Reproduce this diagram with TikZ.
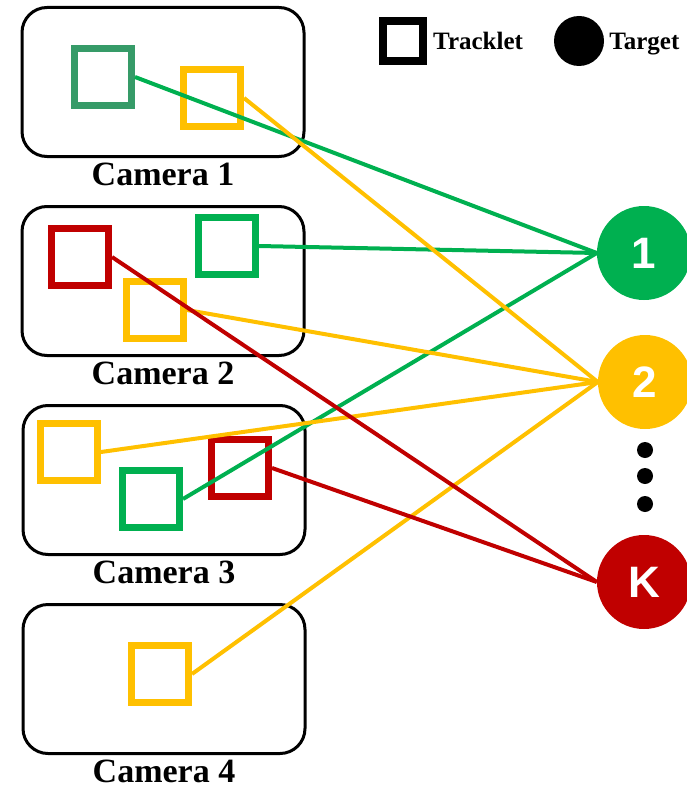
\documentclass[tikz,border=0pt]{standalone}
\usepackage{fontspec}
\setmainfont{Liberation Serif}
\newfontfamily\numfont{Liberation Sans}
\usetikzlibrary{positioning}
\definecolor{tgreen}{RGB}{0,176,80}
\definecolor{tgreenB}{RGB}{54,155,104}
\definecolor{tyellow}{RGB}{255,192,0}
\definecolor{tred}{RGB}{192,0,0}

\begin{document}
\begin{tikzpicture}[x=1pt,y=-1pt,
  camera/.style={draw,line width=3pt,rounded corners=25pt,minimum width=282pt,minimum height=149pt},
  camlabel/.style={font=\fontsize{34}{38}\selectfont\bfseries,inner sep=0pt},
  tracklet/.style={draw,line width=7pt,minimum size=57pt,inner sep=0pt},
  target/.style={circle,minimum size=94pt,inner sep=0pt,text=white,font=\numfont\fontsize{44}{48}\selectfont\bfseries},
  dot/.style={circle,fill=black,minimum size=16pt,inner sep=0pt},
  legtext/.style={font=\fontsize{25}{28}\selectfont\bfseries,inner sep=0pt,text height=16.5pt,text depth=0pt},
  link/.style={line width=4pt}]
\useasboundingbox (0,0) rectangle (687,789);

% cameras
\node[camera] (cam1) at (163,82) {};
\node[camera] (cam2) at (163,281) {};
\node[camera] (cam3) at (164,480) {};
\node[camera] (cam4) at (164,679) {};
\node[camlabel, below=5pt of cam1] (lab1) {Camera 1};
\node[camlabel, below=5pt of cam2] (lab2) {Camera 2};
\node[camlabel, below=5pt of cam3] (lab3) {Camera 3};
\node[camlabel, below=5pt of cam4] (lab4) {Camera 4};

% tracklets
\node[tracklet, draw=tgreenB] (c1g) at (103,77) {};
\node[tracklet, draw=tyellow] (c1y) at (212,98) {};
\node[tracklet, draw=tred] (c2r) at (80,257) {};
\node[tracklet, draw=tgreen] (c2g) at (227,246) {};
\node[tracklet, draw=tyellow] (c2y) at (155,310) {};
\node[tracklet, draw=tyellow] (c3y) at (69,452) {};
\node[tracklet, draw=tgreen] (c3g) at (151,499) {};
\node[tracklet, draw=tred] (c3r) at (240,468) {};
\node[tracklet, draw=tyellow] (c4y) at (160,674) {};

% targets
\node[target, fill=tgreen] (t1) at (644,253) {1};
\node[target, fill=tyellow] (t2) at (645,382) {2};
\node[target, fill=tred] (tk) at (644,582) {K};
\node[dot] (d1) at (645,450) {};
\node[dot] (d2) at (645,476) {};
\node[dot] (d3) at (645,504) {};

% associations
\draw[link, tgreen] (c1g.east) -- (t1.west);
\draw[link, tgreen] (c2g.east) -- (t1.west);
\draw[link, tgreen] (c3g.east) -- (t1.west);
\draw[link, tyellow] (c1y.east) -- (t2.west);
\draw[link, tyellow] (c2y.east) -- (t2.west);
\draw[link, tyellow] (c3y.east) -- (t2.west);
\draw[link, tyellow] (c4y.east) -- (t2.west);
\draw[link, tred] (c2r.east) -- (tk.west);
\draw[link, tred] (c3r.east) -- (tk.west);

% legend
\node[tracklet, draw=black, line width=8pt, minimum size=40pt] (legtrk) at (403,41) {};
\node[legtext, right=6pt of legtrk] (legtrktxt) {Tracklet};
\node[circle, fill=black, minimum size=50pt, inner sep=0pt] (legtgt) at (579,41) {};
\node[legtext, right=5pt of legtgt] (legtgttxt) {Target};
\end{tikzpicture}
\end{document}
